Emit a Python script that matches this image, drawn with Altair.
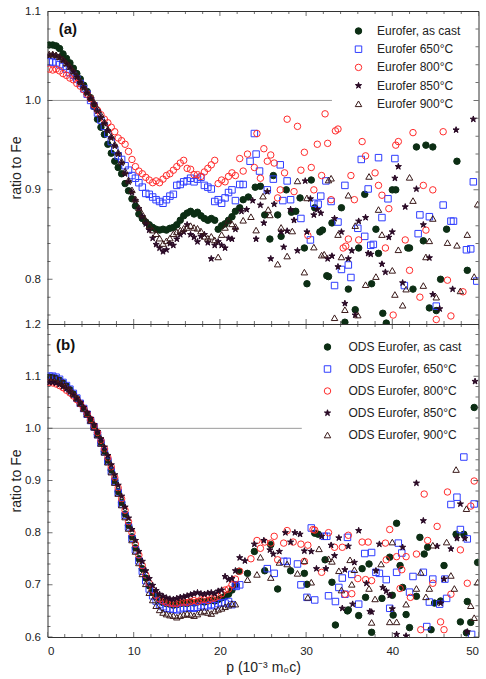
import altair as alt
import pandas as pd

FONT = "Liberation Sans"

SERIES_A = ["Eurofer, as cast", "Eurofer 650°C", "Eurofer 800°C", "Eurofer 850°C", "Eurofer 900°C"]
SERIES_B = ["ODS Eurofer, as cast", "ODS Eurofer, 650°C", "ODS Eurofer, 800°C", "ODS Eurofer, 850°C", "ODS Eurofer, 900°C"]

STAR = ("M0,-1L0.224,-0.309L0.951,-0.309L0.363,0.118L0.588,0.809L0,0.382"
        "L-0.588,0.809L-0.363,0.118L-0.951,-0.309L-0.224,-0.309Z")
SHAPES = ["circle", "square", "circle", STAR, "triangle-up"]
STROKES = ["#0c2e14", "#2f3dff", "#ff2b2b", "#2a0a26", "#3a1a1a"]
FILLS = ["#0c2e14", "transparent", "transparent", "#2a0a26", "transparent"]

# shared p grid of the smooth low-momentum part (10^-3 m0c)
P_SMOOTH = [0.2, 0.6, 1.0, 1.4, 1.8, 2.2, 2.6, 3.0, 3.4, 3.8,
            4.2, 4.6, 5.0, 5.4, 5.8, 6.2, 6.6, 7.0, 7.4, 7.8,
            8.2, 8.6, 9.0, 9.4, 9.8, 10.2, 10.6, 11.0, 11.4, 11.8,
            12.2, 12.6, 13.0, 13.4, 13.8, 14.2, 14.6, 15.0, 15.4, 15.8,
            16.2, 16.6, 17.0, 17.4, 17.8, 18.2, 18.6, 19.0, 19.4, 19.8,
            20.2, 20.6, 21.0, 21.4, 21.8]

# ---------- panel (a) : Eurofer ----------
A_CAST_S = [1.062, 1.062, 1.061, 1.058, 1.052, 1.047, 1.042, 1.036, 1.030, 1.024,
            1.017, 1.010, 1.003, 0.993, 0.979, 0.970, 0.962, 0.951, 0.941, 0.932,
            0.925, 0.918, 0.907, 0.899, 0.890, 0.882, 0.873, 0.868, 0.864, 0.861,
            0.858, 0.856, 0.855, 0.856, 0.855, 0.857, 0.858, 0.861, 0.866, 0.871,
            0.874, 0.876, 0.873, 0.875, 0.871, 0.868, 0.866, 0.868, 0.866, 0.856,
            0.860, 0.862, 0.866, 0.870, 0.876]
A_650_S = [1.043, 1.043, 1.042, 1.040, 1.038, 1.035, 1.031, 1.028, 1.024, 1.019,
           1.013, 1.007, 1.000, 0.994, 0.986, 0.978, 0.971, 0.963, 0.954, 0.945,
           0.938, 0.934, 0.927, 0.922, 0.916, 0.913, 0.908, 0.903, 0.896, 0.895,
           0.892, 0.889, 0.887, 0.885, 0.889, 0.893, 0.895, 0.905, 0.906, 0.909,
           0.910, 0.913, 0.909, 0.912, 0.914, 0.905, 0.903, 0.901, 0.887, 0.889,
           0.885, 0.891, 0.897, 0.900, 0.888]
A_800_S = [1.035, 1.034, 1.035, 1.033, 1.030, 1.028, 1.025, 1.023, 1.019, 1.016,
           1.012, 1.007, 1.002, 0.995, 0.989, 0.984, 0.979, 0.975, 0.970, 0.965,
           0.958, 0.955, 0.951, 0.943, 0.934, 0.926, 0.921, 0.918, 0.914, 0.911,
           0.908, 0.910, 0.908, 0.912, 0.916, 0.918, 0.922, 0.926, 0.930, 0.933,
           0.924, 0.923, 0.917, 0.917, 0.915, 0.920, 0.924, 0.928, 0.933, 0.907,
           0.911, 0.909, 0.915, 0.919, 0.916]
A_850_S = [1.050, 1.051, 1.050, 1.048, 1.045, 1.041, 1.037, 1.032, 1.026, 1.020,
           1.014, 1.008, 1.002, 0.996, 0.988, 0.981, 0.974, 0.966, 0.958, 0.949,
           0.940, 0.930, 0.918, 0.909, 0.897, 0.888, 0.879, 0.870, 0.862, 0.855,
           0.846, 0.839, 0.835, 0.831, 0.833, 0.840, 0.838, 0.845, 0.850, 0.853,
           0.861, 0.850, 0.847, 0.842, 0.848, 0.850, 0.841, 0.823, 0.838, 0.842,
           0.838, 0.835, 0.846, 0.845, 0.856]
A_900_S = [1.052, 1.052, 1.051, 1.049, 1.046, 1.042, 1.038, 1.033, 1.028, 1.022,
           1.016, 1.010, 1.004, 0.998, 0.991, 0.984, 0.976, 0.968, 0.960, 0.951,
           0.942, 0.932, 0.921, 0.911, 0.900, 0.890, 0.880, 0.873, 0.866, 0.860,
           0.855, 0.851, 0.846, 0.840, 0.843, 0.846, 0.851, 0.853, 0.855, 0.857,
           0.858, 0.860, 0.858, 0.857, 0.854, 0.848, 0.846, 0.848, 0.844, 0.825,
           0.850, 0.858, 0.866, 0.862, 0.859]

A_CAST_N = [(22.3, 0.880), (22.7, 0.889), (23.3, 0.892), (24.1, 0.903), (24.7, 0.904), (25.2, 0.872),
            (25.8, 0.845), (26.2, 0.916), (26.7, 0.872), (27.1, 0.848), (27.7, 0.900), (28.3, 0.875),
            (28.8, 0.876), (29.3, 0.891), (29.8, 0.835), (30.1, 0.795), (30.6, 0.911), (31.0, 0.880),
            (31.6, 0.853), (31.9, 0.855), (32.4, 0.804), (32.6, 0.803), (33.0, 0.863), (34.1, 0.880),
            (34.5, 0.752), (34.9, 0.789), (35.7, 0.766), (36.1, 0.835), (36.8, 0.895), (37.6, 0.795),
            (38.1, 0.856), (38.4, 0.829), (38.9, 0.762), (39.3, 0.751), (40.0, 0.900), (40.4, 0.900),
            (41.8, 0.835), (42.0, 0.835), (42.4, 0.789), (42.8, 0.948), (43.6, 0.843), (43.9, 0.950),
            (44.3, 0.768), (44.7, 0.948), (45.1, 0.765), (45.6, 0.800), (46.3, 0.856), (47.5, 0.932),
            (48.7, 0.810)]
A_650_N = [(22.3, 0.906), (22.7, 0.906), (23.5, 0.932), (24.0, 0.963), (24.2, 0.940), (24.6, 0.921),
           (25.5, 0.900), (26.2, 0.912), (27.0, 0.928), (27.3, 0.888), (27.8, 0.910), (28.2, 0.889),
           (29.4, 0.868), (30.5, 0.844), (30.9, 0.885), (31.4, 0.884), (31.7, 0.893), (32.3, 0.910),
           (32.9, 0.887), (33.3, 0.793), (33.7, 0.864), (34.1, 0.811), (34.5, 0.905), (34.9, 0.816),
           (35.2, 0.802), (36.0, 0.857), (36.4, 0.934), (36.8, 0.848), (37.2, 0.901), (37.5, 0.838),
           (37.8, 0.839), (38.4, 0.936), (38.8, 0.869), (39.5, 0.890), (40.3, 0.935), (41.4, 0.793),
           (43.0, 0.851), (43.2, 0.872), (44.3, 0.870), (45.1, 0.770), (45.9, 0.883), (46.8, 0.865),
           (47.1, 0.865), (48.6, 0.833), (49.1, 0.834), (49.4, 0.909), (49.8, 0.798)]
A_800_N = [(22.3, 0.935), (22.7, 0.921), (23.2, 0.940), (24.0, 0.925), (24.3, 0.963), (24.7, 0.913),
           (25.1, 0.946), (25.5, 0.932), (25.9, 0.939), (26.3, 0.930), (26.7, 0.891), (27.0, 0.900),
           (27.5, 0.919), (27.8, 0.979), (28.6, 0.898), (29.0, 0.971), (29.4, 0.922), (29.8, 0.942),
           (30.2, 0.849), (30.6, 0.925), (30.9, 0.900), (31.3, 0.951), (31.8, 0.916), (32.2, 0.985),
           (32.5, 0.952), (32.9, 0.889), (33.4, 0.966), (33.7, 0.968), (34.3, 0.835), (34.6, 0.837),
           (34.9, 0.845), (35.2, 0.916), (35.6, 0.889), (36.1, 0.844), (36.5, 0.954), (36.9, 0.938),
           (38.0, 0.919), (38.4, 0.905), (38.8, 0.894), (39.2, 0.835), (39.6, 0.879), (40.1, 0.760),
           (40.4, 0.950), (40.7, 0.954), (41.5, 0.844), (42.0, 0.810), (42.4, 0.964), (43.2, 0.780),
           (43.6, 0.905), (43.9, 0.855), (44.7, 0.900), (45.1, 0.755), (45.9, 0.965), (46.4, 0.799),
           (46.8, 0.759), (48.2, 0.786)]
A_850_N = [(22.5, 0.876), (23.1, 0.878), (23.8, 0.888), (24.2, 0.845), (24.7, 0.883), (25.1, 0.863),
           (25.5, 0.898), (25.9, 0.823), (26.3, 0.884), (27.1, 0.853), (27.4, 0.836), (27.8, 0.854),
           (28.2, 0.878), (28.6, 0.866), (29.0, 0.832), (29.9, 0.910), (30.1, 0.853), (30.5, 0.890),
           (30.9, 0.872), (31.3, 0.878), (31.7, 0.874), (32.5, 0.823), (33.0, 0.826), (33.3, 0.868),
           (33.7, 0.814), (34.1, 0.853), (34.5, 0.773), (34.9, 0.823), (35.3, 0.832), (35.7, 0.760),
           (36.1, 0.865), (36.9, 0.869), (37.2, 0.829), (37.5, 0.828), (38.8, 0.817), (39.2, 0.808),
           (39.6, 0.847), (40.0, 0.853), (40.3, 0.913), (40.7, 0.926), (41.2, 0.796), (41.5, 0.881),
           (42.8, 0.901), (43.6, 0.861), (44.3, 0.824), (44.7, 0.783), (45.5, 0.767), (47.0, 0.789),
           (47.4, 0.967), (49.4, 0.979)]
A_900_N = [(22.7, 0.866), (23.6, 0.870), (24.2, 0.855), (25.0, 0.893), (25.6, 0.878), (25.8, 0.872),
           (26.7, 0.817), (27.1, 0.858), (27.8, 0.826), (28.4, 0.854), (29.0, 0.910), (29.8, 0.808),
           (30.1, 0.891), (30.9, 0.836), (31.8, 0.827), (32.1, 0.828), (32.6, 0.911), (32.9, 0.913),
           (33.3, 0.757), (33.7, 0.850), (34.1, 0.825), (34.5, 0.766), (34.9, 0.894), (35.7, 0.860),
           (36.0, 0.760), (36.9, 0.794), (37.3, 0.915), (38.1, 0.803), (38.4, 0.878), (38.8, 0.850),
           (40.0, 0.810), (40.3, 0.783), (40.7, 0.833), (41.2, 0.771), (41.6, 0.789), (42.0, 0.914),
           (42.4, 0.888), (43.6, 0.793), (43.9, 0.825), (44.3, 0.843), (44.7, 0.868), (45.1, 0.780),
           (46.4, 0.841), (47.5, 0.838), (47.9, 0.787), (48.7, 0.850), (49.5, 0.803), (49.9, 0.884)]

# ---------- panel (b) : ODS Eurofer ----------
B_CAST_S = [1.098, 1.098, 1.096, 1.092, 1.087, 1.081, 1.074, 1.066, 1.057, 1.048,
            1.038, 1.027, 1.015, 1.002, 0.988, 0.973, 0.956, 0.939, 0.920, 0.900,
            0.879, 0.858, 0.836, 0.814, 0.792, 0.771, 0.750, 0.731, 0.713, 0.698,
            0.686, 0.677, 0.670, 0.666, 0.664, 0.663, 0.661, 0.662, 0.664, 0.665,
            0.664, 0.666, 0.665, 0.667, 0.668, 0.667, 0.669, 0.670, 0.669, 0.672,
            0.675, 0.678, 0.682, 0.690, 0.700]
B_650_S = [1.100, 1.100, 1.098, 1.094, 1.088, 1.082, 1.075, 1.067, 1.058, 1.048,
           1.038, 1.027, 1.015, 1.003, 0.988, 0.972, 0.955, 0.937, 0.918, 0.898,
           0.877, 0.855, 0.833, 0.811, 0.789, 0.767, 0.746, 0.726, 0.708, 0.692,
           0.679, 0.669, 0.662, 0.658, 0.655, 0.654, 0.653, 0.652, 0.654, 0.656,
           0.655, 0.657, 0.655, 0.657, 0.660, 0.658, 0.660, 0.662, 0.660, 0.664,
           0.666, 0.665, 0.668, 0.662, 0.700]
B_800_S = [1.088, 1.087, 1.085, 1.082, 1.078, 1.073, 1.068, 1.062, 1.055, 1.047,
           1.038, 1.028, 1.017, 1.005, 0.992, 0.977, 0.961, 0.944, 0.926, 0.906,
           0.886, 0.865, 0.843, 0.821, 0.800, 0.778, 0.757, 0.737, 0.719, 0.703,
           0.690, 0.680, 0.673, 0.669, 0.666, 0.665, 0.664, 0.664, 0.666, 0.667,
           0.666, 0.668, 0.670, 0.668, 0.671, 0.672, 0.670, 0.673, 0.675, 0.678,
           0.683, 0.690, 0.692, 0.700, 0.711]
B_850_S = [1.088, 1.088, 1.087, 1.084, 1.080, 1.076, 1.070, 1.064, 1.057, 1.049,
           1.040, 1.030, 1.019, 1.007, 0.994, 0.980, 0.964, 0.948, 0.930, 0.911,
           0.891, 0.870, 0.849, 0.828, 0.806, 0.785, 0.764, 0.745, 0.727, 0.712,
           0.699, 0.689, 0.682, 0.678, 0.675, 0.673, 0.672, 0.674, 0.676, 0.677,
           0.679, 0.681, 0.683, 0.685, 0.683, 0.682, 0.684, 0.685, 0.683, 0.688,
           0.690, 0.716, 0.710, 0.712, 0.727]
B_900_S = [1.098, 1.098, 1.097, 1.093, 1.088, 1.082, 1.075, 1.067, 1.058, 1.048,
           1.038, 1.027, 1.015, 1.002, 0.987, 0.971, 0.954, 0.935, 0.916, 0.896,
           0.875, 0.853, 0.830, 0.808, 0.786, 0.764, 0.742, 0.721, 0.702, 0.685,
           0.671, 0.660, 0.652, 0.647, 0.644, 0.642, 0.641, 0.638, 0.641, 0.643,
           0.645, 0.643, 0.641, 0.644, 0.648, 0.650, 0.647, 0.645, 0.650, 0.653,
           0.655, 0.658, 0.661, 0.664, 0.663]

B_CAST_N = [(22.2, 0.726), (23.2, 0.722), (24.0, 0.764), (25.2, 0.727), (25.9, 0.777), (26.7, 0.692),
            (28.2, 0.727), (29.8, 0.722), (30.1, 0.701), (31.0, 0.799), (31.4, 0.797), (32.2, 0.748),
            (33.0, 0.705), (33.4, 0.623), (34.8, 0.650), (34.9, 0.652), (36.1, 0.641), (36.5, 0.731),
            (36.9, 0.676), (37.3, 0.740), (37.6, 0.609), (38.8, 0.674), (39.7, 0.753), (40.0, 0.680),
            (40.1, 0.642), (40.5, 0.818), (40.9, 0.737), (41.2, 0.695), (41.6, 0.643), (42.0, 0.618),
            (42.8, 0.678), (43.2, 0.791), (43.7, 0.759), (44.1, 0.772), (44.5, 0.614), (44.9, 0.665),
            (45.6, 0.669), (46.0, 0.737), (47.4, 0.797), (47.9, 0.629), (48.3, 0.797), (48.6, 0.608),
            (48.7, 0.668), (49.1, 0.628), (49.5, 1.040), (49.9, 0.743)]
B_650_N = [(21.9, 0.697), (22.3, 0.700), (25.5, 0.731), (26.3, 0.722), (27.4, 0.745), (27.8, 0.745),
           (29.0, 0.740), (29.4, 0.700), (30.1, 0.676), (30.6, 0.809), (31.0, 0.671), (32.1, 0.793),
           (32.4, 0.793), (32.6, 0.679), (33.4, 0.668), (33.8, 0.695), (34.2, 0.713), (34.5, 0.682),
           (34.8, 0.791), (35.3, 0.720), (36.1, 0.663), (36.8, 0.760), (37.6, 0.762), (38.1, 0.724),
           (38.5, 0.722), (39.3, 0.710), (39.7, 0.655), (40.5, 0.724), (40.7, 0.780), (41.1, 0.761),
           (42.0, 0.686), (42.4, 0.716), (43.6, 0.724), (44.0, 0.620), (44.3, 0.667), (44.7, 0.711),
           (45.5, 0.663), (46.1, 0.711), (46.3, 0.674), (46.8, 0.854), (47.5, 0.868), (47.9, 0.806),
           (48.3, 0.945), (48.7, 0.788), (49.2, 0.605), (49.5, 0.855)]
B_800_N = [(22.3, 0.726), (23.6, 0.750), (24.3, 0.785), (24.7, 0.770), (25.2, 0.782), (25.9, 0.780),
           (26.3, 0.793), (26.7, 0.748), (27.4, 0.780), (27.8, 0.804), (28.5, 0.782), (29.4, 0.778),
           (29.8, 0.745), (30.2, 0.776), (30.8, 0.806), (31.0, 0.805), (31.8, 0.724), (32.6, 0.800),
           (33.3, 0.772), (34.2, 0.772), (34.5, 0.682), (34.9, 0.795), (35.3, 0.683), (36.0, 0.712),
           (36.5, 0.782), (36.9, 0.710), (37.2, 0.782), (37.6, 0.708), (39.2, 0.780), (39.3, 0.748),
           (39.7, 0.806), (40.5, 0.754), (40.9, 0.693), (41.1, 0.729), (41.6, 0.754), (42.1, 0.676),
           (42.8, 0.759), (43.3, 0.614), (43.7, 0.874), (44.1, 0.785), (44.7, 0.703), (45.2, 0.812),
           (45.6, 0.629), (46.0, 0.614), (46.4, 0.878), (46.8, 0.682), (47.9, 0.767), (48.7, 0.703),
           (49.1, 0.851), (49.5, 0.899)]
B_850_N = [(22.3, 0.752), (22.9, 0.746), (24.0, 0.778), (25.1, 0.785), (25.8, 0.767), (26.2, 0.759),
           (26.9, 0.764), (27.6, 0.800), (28.2, 0.782), (28.7, 0.800), (29.3, 0.797), (29.8, 0.765),
           (30.6, 0.764), (31.2, 0.731), (31.8, 0.793), (32.3, 0.731), (32.9, 0.776), (33.3, 0.756),
           (33.8, 0.790), (34.2, 0.655), (34.5, 0.729), (34.9, 0.774), (35.4, 0.663), (35.6, 0.743),
           (36.1, 0.804), (37.0, 0.703), (37.4, 0.649), (37.6, 0.648), (38.1, 0.727), (38.5, 0.778),
           (38.9, 0.695), (39.3, 0.688), (39.7, 0.680), (40.0, 0.654), (40.5, 0.605), (41.2, 0.772),
           (41.6, 0.602), (42.8, 0.895), (43.6, 0.823), (45.2, 0.774), (45.6, 0.665), (46.0, 0.711),
           (46.8, 0.769), (47.5, 0.789), (47.9, 0.855), (48.4, 0.789), (48.7, 0.610), (49.6, 1.090)]
B_900_N = [(23.2, 0.710), (24.3, 0.720), (24.7, 0.753), (25.9, 0.714), (26.9, 0.743), (27.8, 0.740),
           (29.0, 0.722), (29.8, 0.746), (30.2, 0.676), (30.6, 0.705), (31.5, 0.769), (32.6, 0.750),
           (33.0, 0.745), (33.8, 0.727), (34.1, 0.690), (35.1, 0.748), (35.3, 0.701), (35.6, 0.729),
           (37.3, 0.693), (37.6, 0.628), (38.0, 0.673), (38.7, 0.740), (39.7, 0.629), (40.0, 0.782),
           (40.5, 0.629), (41.6, 0.663), (42.8, 0.693), (43.3, 0.724), (43.9, 0.677), (44.3, 0.693),
           (44.7, 0.776), (46.3, 0.782), (46.8, 0.718), (47.2, 0.693), (47.4, 0.921), (48.6, 0.846),
           (49.1, 0.660), (49.5, 0.637), (49.9, 0.705)]

X_LABELS = [0, 10, 20, 30, 40, 50]
Y_LABELS_A = [0.8, 0.9, 1.0, 1.1]
Y_LABELS_B = [0.6, 0.7, 0.8, 0.9, 1.0, 1.1, 1.2]

W, H = 431, 313


def build_df(names, smooth, noisy):
    rows = []
    for name, ys, pts in zip(names, smooth, noisy):
        for p, r in zip(P_SMOOTH, ys):
            rows.append({"p": p, "r": r, "s": name})
        for p, r in pts:
            rows.append({"p": p, "r": r, "s": name})
    return pd.DataFrame(rows)


def tick_df(lo, hi, step, major_every):
    n = int(round((hi - lo) / step))
    out = []
    for i in range(n + 1):
        v = round(lo + i * step, 4)
        maj = abs(v / major_every - round(v / major_every)) < 1e-6
        out.append({"t": v, "L": 10 if maj else 6})
    return pd.DataFrame(out)


def panel(df, names, ydom, ylabels, ytick_lo, show_x, label, label_pos, ref_end,
          legend_x, legend_y, row_pad, label_off):
    xs = alt.Scale(domain=[0, 50], nice=False, zero=False)
    ys = alt.Scale(domain=ydom, nice=False, zero=False)

    legend = alt.Legend(orient="none", legendX=legend_x, legendY=legend_y, title=None,
                        padding=0, labelFont=FONT, labelFontSize=12, labelColor="#222",
                        rowPadding=row_pad, labelOffset=label_off, symbolSize=42,
                        symbolStrokeWidth=1)

    if show_x:
        x_axis = alt.Axis(title="p (10⁻³ m₀c)", values=X_LABELS, format="d", domain=False,
                          ticks=False, grid=False, labelFont=FONT, labelFontSize=11.5,
                          labelColor="#222", labelPadding=8, titleFont=FONT, titleFontSize=14,
                          titleFontWeight="normal", titleColor="#222", titlePadding=4)
    else:
        x_axis = alt.Axis(title=None, labels=False, domain=False, ticks=False, grid=False)
    y_axis = alt.Axis(title="ratio to Fe", values=ylabels, format=".1f", domain=False, ticks=False,
                      grid=False, labelFont=FONT, labelFontSize=11.5, labelColor="#222",
                      labelPadding=7, titleFont=FONT, titleFontSize=14, titleFontWeight="normal",
                      titleColor="#222", titlePadding=1)

    X = lambda f: alt.X(f, scale=xs, axis=x_axis)
    Y = lambda f: alt.Y(f, scale=ys, axis=y_axis)

    ref = alt.Chart(pd.DataFrame({"p": [0.0], "p2": [ref_end], "r": [1.0]})).mark_rule(
        color="#9a9a9a", strokeWidth=1).encode(x=X("p:Q"), x2="p2:Q", y=Y("r:Q"))

    pts = alt.Chart(df).mark_point(size=42, strokeWidth=1, opacity=1, clip=True).encode(
        x=X("p:Q"), y=Y("r:Q"),
        shape=alt.Shape("s:N", scale=alt.Scale(domain=names, range=SHAPES), legend=legend),
        fill=alt.Fill("s:N", scale=alt.Scale(domain=names, range=FILLS), legend=legend),
        stroke=alt.Stroke("s:N", scale=alt.Scale(domain=names, range=STROKES), legend=legend),
    )

    yt = tick_df(ytick_lo, ydom[1], 0.02, 0.1)
    xt = tick_df(0, 50, 2, 10)
    tick_style = dict(thickness=1, color="#333", clip=True)
    left = alt.Chart(yt).mark_tick(orient="horizontal", **tick_style).encode(
        y=Y("t:Q"), x=alt.value(0), size=alt.Size("L:Q", scale=None))
    right = alt.Chart(yt).mark_tick(orient="horizontal", **tick_style).encode(
        y=Y("t:Q"), x=alt.value(W), size=alt.Size("L:Q", scale=None))
    top = alt.Chart(xt).mark_tick(orient="vertical", **tick_style).encode(
        x=X("t:Q"), y=alt.value(0), size=alt.Size("L:Q", scale=None))
    bottom = alt.Chart(xt).mark_tick(orient="vertical", **tick_style).encode(
        x=X("t:Q"), y=alt.value(H), size=alt.Size("L:Q", scale=None))

    txt = alt.Chart(pd.DataFrame({"p": [label_pos[0]], "r": [label_pos[1]], "t": [label]})).mark_text(
        align="left", baseline="middle", font=FONT, fontSize=15, fontWeight="bold", color="#111").encode(
        x=X("p:Q"), y=Y("r:Q"), text="t:N")

    return alt.layer(ref, pts, left, right, top, bottom, txt).properties(width=W, height=H)


df_a = build_df(SERIES_A, [A_CAST_S, A_650_S, A_800_S, A_850_S, A_900_S],
                [A_CAST_N, A_650_N, A_800_N, A_850_N, A_900_N])
df_b = build_df(SERIES_B, [B_CAST_S, B_650_S, B_800_S, B_850_S, B_900_S],
                [B_CAST_N, B_650_N, B_800_N, B_850_N, B_900_N])

top_panel = panel(df_a, SERIES_A, [0.75, 1.1], Y_LABELS_A, 0.76, False, "(a)", (1.3, 1.080), 33.0,
                  305, 14, 6.2, 12.5)
bottom_panel = panel(df_b, SERIES_B, [0.6, 1.2], Y_LABELS_B, 0.6, True, "(b)", (1.0, 1.160), 29.5,
                     274, 17, 10, 15)

chart = alt.vconcat(top_panel, bottom_panel, spacing=0, bounds="flush").resolve_scale(
    shape="independent", fill="independent", stroke="independent"
).properties(
    padding={"left": 8.5, "top": 4, "right": 5, "bottom": 3}
).configure_view(stroke="#333", strokeWidth=1)

chart.save("out.html", embed_options={"renderer": "svg", "actions": False})
